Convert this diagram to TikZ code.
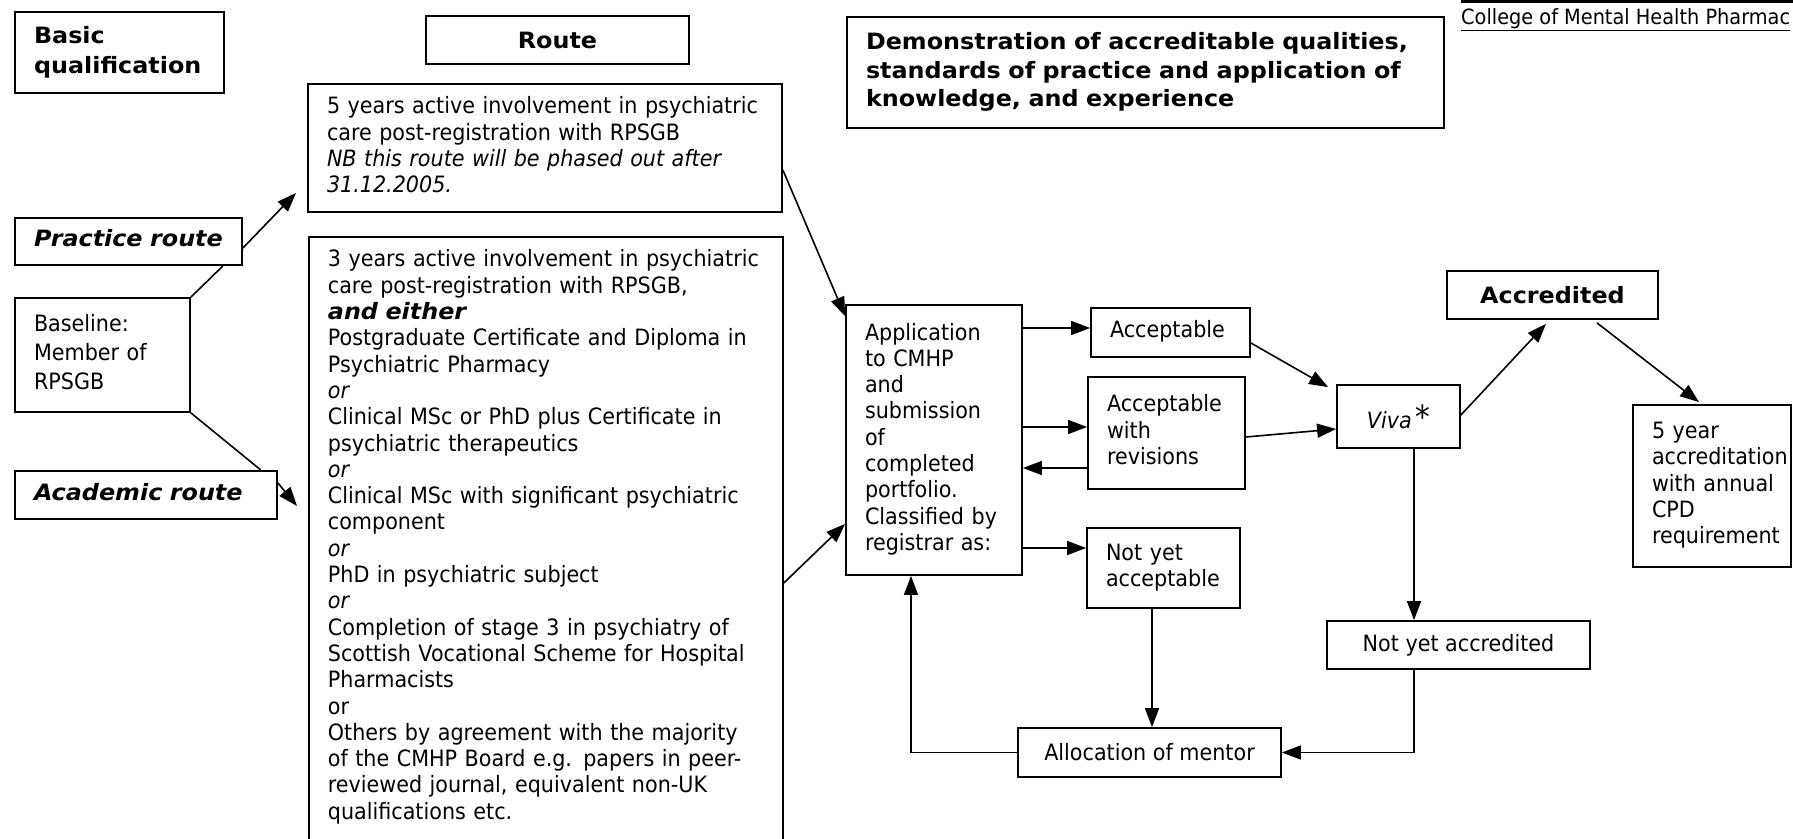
\documentclass[tikz,border=0pt]{standalone}
\usepackage{fontspec}
\setmainfont{DejaVu Sans}[FakeStretch=0.92, BoldFeatures={FakeStretch=1.06}, BoldItalicFeatures={FakeStretch=1.06}]
\usetikzlibrary{arrows.meta}
\newcommand{\tb}[1]{\begin{tabular}{@{}l@{}}#1\end{tabular}}
\begin{document}
\begin{tikzpicture}[x=1pt,y=-1pt,
  box/.style={draw, line width=1.8pt, inner ysep=0pt, align=left},
  arr/.style={line width=1.6pt, -{Triangle[length=19pt,width=14pt]}},
  ln/.style={line width=1.6pt}]
\fontsize{22.5}{26.3}\selectfont
\useasboundingbox (0,0) rectangle (1793,838);
\clip (0,0) rectangle (1793,838);

% header boxes
\node[box, font=\bfseries, minimum width=209pt, minimum height=81pt, text width=171pt, inner xsep=19pt] (basic) at (119.5,52.5) {\fontsize{22.5}{30}\selectfont\tb{Basic\\qualification}};
\node[box, font=\bfseries, minimum width=263pt, minimum height=48pt, align=center] (route) at (557.5,40) {Route};
\node[box, font=\bfseries, minimum width=597pt, minimum height=111pt, text width=559pt, inner xsep=19pt] (demo) at (1145.5,72.5) {\fontsize{22.5}{28.5}\selectfont\tb{Demonstration of accreditable qualities,\\standards of practice and application of\\knowledge, and experience}};
\node[anchor=west, inner sep=0pt, font=\fontsize{21}{23}\selectfont] (college) at (1461,20) {\underline{College of Mental Health Pharmac}};
\draw[line width=3pt] (college.north west |- 0,1.5) -- (1793,1.5);

% left side
\node[box, font=\bfseries\itshape, minimum width=227pt, minimum height=47pt, text width=189pt, inner xsep=19pt] (practice) at (128.5,241.5) {\tb{Practice route}};
\node[box, minimum width=175pt, minimum height=114pt, text width=137pt, inner xsep=19pt] (baseline) at (102.5,355) {\fontsize{22.5}{29}\selectfont\tb{Baseline:\\Member of\\RPSGB}};
\node[box, font=\bfseries\itshape, minimum width=262pt, minimum height=48pt, text width=224pt, inner xsep=19pt] (academic) at (146,495) {\tb{Academic route}};

% route boxes
\node[box, minimum width=474pt, minimum height=128pt, text width=436pt, inner xsep=19pt] (five) at (545,148) {\tb{5 years active involvement in psychiatric\\care post-registration with RPSGB\\\textit{NB this route will be phased out after}\\\textit{31.12.2005.}}};
\node[box, anchor=north west, minimum width=474pt, text width=436pt, inner xsep=19pt, inner ysep=11.6pt] (big) at (308,236) {\tb{3 years active involvement in psychiatric\\care post-registration with RPSGB,\\\textbf{\textit{and either}}\\Postgraduate Certificate and Diploma in\\Psychiatric Pharmacy\\\textit{or}\\Clinical MSc or PhD plus Certificate in\\psychiatric therapeutics\\\textit{or}\\Clinical MSc with significant psychiatric\\component\\\textit{or}\\PhD in psychiatric subject\\\textit{or}\\Completion of stage 3 in psychiatry of\\Scottish Vocational Scheme for Hospital\\Pharmacists\\or\\Others by agreement with the majority\\of the CMHP Board e.g. papers in peer-\\reviewed journal, equivalent non-UK\\qualifications etc.\\[40pt]}};

% right side
\node[box, minimum width=176pt, minimum height=270pt, text width=138pt, inner xsep=19pt] (app) at (934,440) {\tb{Application\\to CMHP\\and\\submission\\of\\completed\\portfolio.\\Classified by\\registrar as:}};
\node[box, minimum width=159pt, minimum height=49pt, text width=121pt, inner xsep=19pt] (acc) at (1170.5,332.5) {\tb{Acceptable}};
\node[box, minimum width=157pt, minimum height=112pt, text width=119pt, inner xsep=19pt] (awr) at (1166.5,433) {\tb{Acceptable\\with\\revisions}};
\node[box, minimum width=153pt, minimum height=80pt, text width=115pt, inner xsep=19pt] (nya) at (1163.5,568) {\tb{Not yet\\acceptable}};
\node[box, minimum width=123pt, minimum height=63pt, align=center] (viva) at (1398.5,416.5) {\textit{Viva}\,{\fontsize{32}{32}\selectfont *}};
\node[box, font=\bfseries, minimum width=211pt, minimum height=48pt, align=center] (accredited) at (1552.5,295) {Accredited};
\node[box, minimum width=158pt, minimum height=162pt, text width=120pt, inner xsep=19pt] (fiveyr) at (1712,486) {\tb{5 year\\accreditation\\with annual\\CPD\\requirement}};
\node[box, minimum width=263pt, minimum height=48pt, align=center] (nyacc) at (1458.5,645) {Not yet accredited};
\node[box, minimum width=263pt, minimum height=49pt, align=center] (alloc) at (1149.5,752.5) {Allocation of mentor};

% free ends
\coordinate (tipfive) at (296,193);
\coordinate (tipbig) at (297,506);

% connectors left
\draw[ln] (baseline.north east) -- ([xshift=-20pt]practice.south east);
\draw[arr] ([yshift=-6.5pt]practice.east) -- (tipfive);
\draw[ln] (baseline.south east) -- ([xshift=-17pt]academic.north east);
\draw[arr] ([yshift=12pt]academic.east) -- (tipbig);

% routes to application
\draw[arr] ([yshift=-22pt]five.east) -- ([yshift=-12pt]app.north west);
\draw[arr] ([yshift=-347pt]big.north east) -- ([yshift=52pt]app.south west);

% classification
\draw[arr] (app.east |- 0,328) -- (acc.west |- 0,328);
\draw[arr] (app.east |- 0,427) -- (awr.west |- 0,427);
\draw[arr] (awr.west |- 0,468) -- (app.east |- 0,468);
\draw[arr] (app.east |- 0,548) -- (nya.west |- 0,548);

% to viva and beyond
\draw[arr] (acc.east |- 0,343) -- ([xshift=-8pt,yshift=-3pt]viva.north west);
\draw[arr] (awr.east |- 0,437) -- (viva.west |- 0,429);
\draw[arr] (viva.east |- 0,415) -- ([xshift=-6.5pt,yshift=-4pt]accredited.south);
\draw[arr] ([xshift=44.5pt,yshift=-3pt]accredited.south) -- ([xshift=-13pt,yshift=2pt]fiveyr.north);
\draw[arr] (1414,0 |- viva.south) -- (1414,0 |- nyacc.north);

% loop back
\draw[arr] (1152,0 |- nya.south) -- (1152,0 |- alloc.north);
\draw[arr] (1414,0 |- nyacc.south) |- (alloc.east);
\draw[arr] (alloc.west) -| (app.south -| 911,0);
\end{tikzpicture}
\end{document}
